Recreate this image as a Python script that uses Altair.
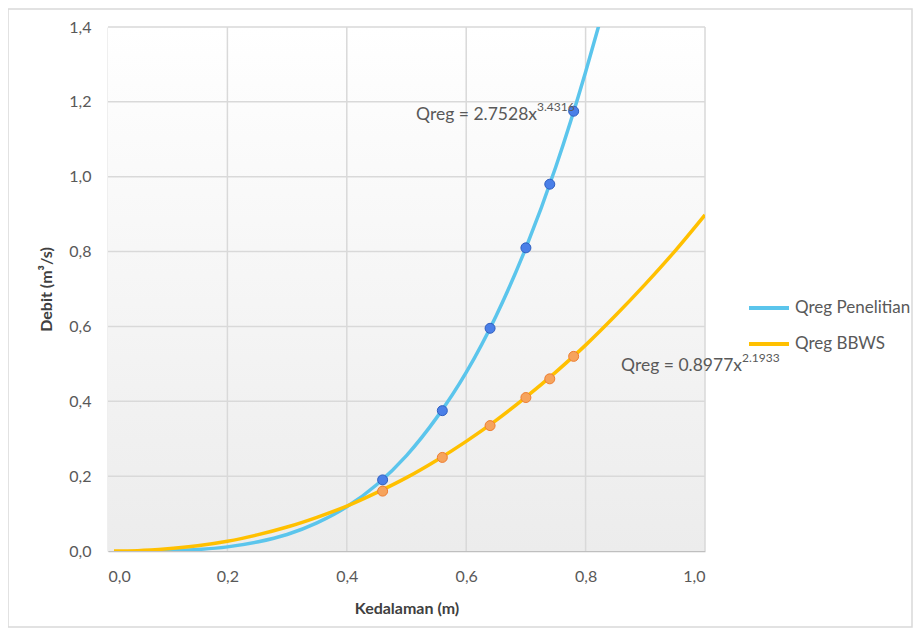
import altair as alt
import pandas as pd

# ---- data ----
blue_x = [0.08, 0.10, 0.15, 0.20, 0.25, 0.30, 0.35, 0.40, 0.45, 0.50, 0.55, 0.60, 0.65, 0.70, 0.75, 0.80, 0.825]
blue_y = [0.000, 0.001, 0.004, 0.011, 0.024, 0.044, 0.075, 0.118, 0.177, 0.255, 0.355, 0.477, 0.628, 0.810, 1.026, 1.280, 1.42]
yel_x = [0.01, 0.05, 0.10, 0.15, 0.20, 0.25, 0.30, 0.35, 0.40, 0.45, 0.50, 0.55, 0.60, 0.65, 0.70, 0.75, 0.80, 0.85, 0.90, 0.95, 1.00]
yel_y = [0.000, 0.001, 0.006, 0.014, 0.026, 0.043, 0.064, 0.090, 0.120, 0.156, 0.196, 0.242, 0.293, 0.349, 0.411, 0.478, 0.550, 0.629, 0.713, 0.802, 0.898]
pt_x = [0.46, 0.56, 0.64, 0.70, 0.74, 0.78]
pt_blue = [0.19, 0.375, 0.595, 0.81, 0.98, 1.175]
pt_orange = [0.16, 0.25, 0.335, 0.41, 0.46, 0.52]
x_ticks = [0.0, 0.2, 0.4, 0.6, 0.8, 1.0]
y_ticks = [0.0, 0.2, 0.4, 0.6, 0.8, 1.0, 1.2, 1.4]
series = ["Qreg Penelitian", "Qreg BBWS"]

FONT = "Lato"
W, H = 597, 524

lines_df = pd.concat([
    pd.DataFrame({"x": blue_x, "y": blue_y, "s": series[0], "o": range(len(blue_x))}),
    pd.DataFrame({"x": yel_x, "y": yel_y, "s": series[1], "o": range(len(yel_x))}),
])
pts_df = pd.DataFrame({"x": pt_x, "b": pt_blue, "r": pt_orange})

xs = alt.Scale(domain=[0, 1.0], nice=False)
ys = alt.Scale(domain=[0, 1.4], nice=False)
lab = "replace(format(datum.value, '.1f'), '.', ',')"

one = alt.Chart(pd.DataFrame({"a": [0]}))

border = one.mark_rect(fill=None, stroke="#d9d9d9", strokeWidth=1.5).encode(
    x=alt.value(-100), x2=alt.value(804), y=alt.value(-18), y2=alt.value(600))

bg = one.mark_rect(fill=alt.Gradient(
    gradient="linear", x1=0, x2=0, y1=0, y2=1,
    stops=[alt.GradientStop(color="#ffffff", offset=0),
           alt.GradientStop(color="#ececec", offset=1)])).encode(
    x=alt.value(0), x2=alt.value(W), y=alt.value(0), y2=alt.value(H))

vgrid = alt.Chart(pd.DataFrame({"t": x_ticks[1:]})).mark_rule(color="#d9d9d9", strokeWidth=1.5).encode(
    x=alt.X("t:Q", scale=xs))
hgrid = alt.Chart(pd.DataFrame({"t": y_ticks[1:]})).mark_rule(color="#d9d9d9", strokeWidth=1.5).encode(
    y=alt.Y("t:Q", scale=ys))

lines = alt.Chart(lines_df).mark_line(strokeWidth=3.5, clip=True, interpolate="monotone").encode(
    x=alt.X("x:Q", scale=xs, title="Kedalaman (m)",
            axis=alt.Axis(values=x_ticks, labelExpr=lab, grid=False, ticks=False,
                          domainColor="#bfbfbf", domainWidth=1.5, labelPadding=17,
                          titlePadding=16)),
    y=alt.Y("y:Q", scale=ys, title="Debit (m³/s)",
            axis=alt.Axis(values=y_ticks, labelExpr=lab, grid=False, ticks=False,
                          domainColor="#bfbfbf", domainWidth=1.5, labelPadding=17,
                          titlePadding=14)),
    color=alt.Color("s:N", scale=alt.Scale(domain=series, range=["#5BC5EC", "#FFC000"]),
                    legend=alt.Legend(title=None, orient="none", legendX=639, legendY=259,
                                      symbolType="stroke", symbolSize=1600, symbolStrokeWidth=4,
                                      labelFontSize=17, labelColor="#595959", labelFont=FONT,
                                      rowPadding=6, labelOffset=4)),
    order="o:Q",
)

p_blue = alt.Chart(pts_df).mark_point(filled=True, size=100, fill="#4A7FE8", stroke="#2F5FC0",
                                      strokeWidth=1, opacity=1).encode(
    x=alt.X("x:Q", scale=xs), y=alt.Y("b:Q", scale=ys))
p_orange = alt.Chart(pts_df).mark_point(filled=True, size=100, fill="#F6A35C", stroke="#EE7E32",
                                        strokeWidth=1, opacity=1).encode(
    x=alt.X("x:Q", scale=xs), y=alt.Y("r:Q", scale=ys))

ann_df = pd.DataFrame({
    "x": [0.7186, 0.7186, 1.062, 1.062],
    "y": [1.165, 1.185, 0.494, 0.516],
    "t": ["Qreg = 2.7528x", "3.4316", "Qreg = 0.8977x", "2.1933"],
    "a": ["right", "left", "right", "left"],
})
ann_main = alt.Chart(ann_df).transform_filter("datum.a == 'right'").mark_text(
    align="right", baseline="middle", color="#595959", font=FONT, fontSize=17.5).encode(
    x=alt.X("x:Q", scale=xs), y=alt.Y("y:Q", scale=ys), text="t:N")
ann_sup = alt.Chart(ann_df).transform_filter("datum.a == 'left'").mark_text(
    align="left", baseline="middle", color="#595959", font=FONT, fontSize=12).encode(
    x=alt.X("x:Q", scale=xs), y=alt.Y("y:Q", scale=ys), text="t:N")

chart = alt.layer(border, bg, vgrid, hgrid, lines, p_blue, p_orange, ann_main, ann_sup).properties(
    width=W, height=H,
    autosize=alt.AutoSizeParams(type="none"),
    padding={"left": 100, "top": 19, "right": 208, "bottom": 77},
).configure_view(stroke=None).configure_axis(
    labelFont=FONT, titleFont=FONT, labelFontSize=16, labelColor="#595959",
    titleFontSize=16, titleColor="#404040", titleFontWeight="bold",
)

chart.save("out.html", embed_options={"renderer": "svg", "actions": False})
